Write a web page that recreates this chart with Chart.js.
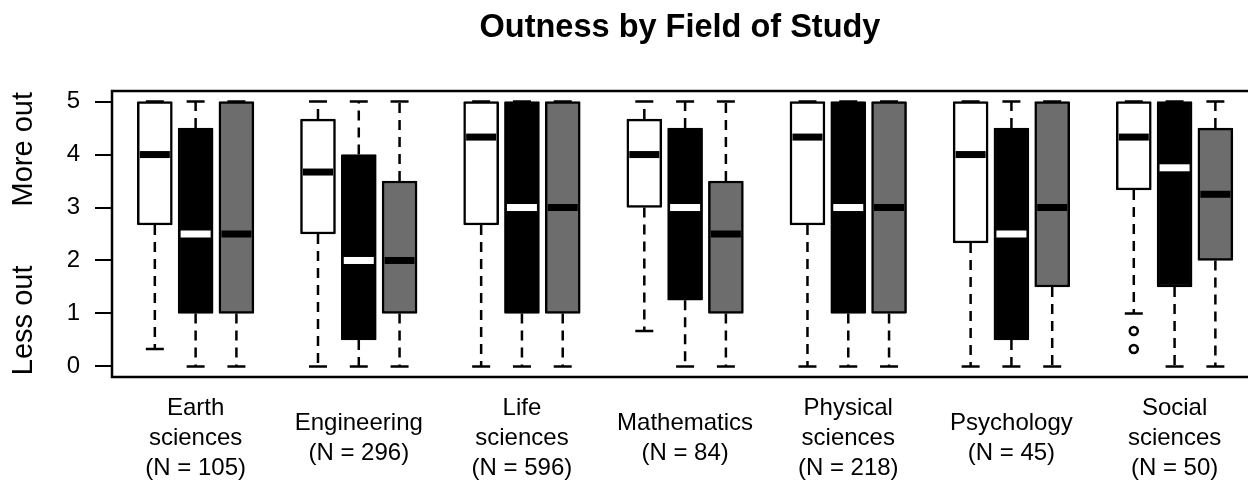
<!DOCTYPE html>
<html>
<head>
<meta charset="utf-8">
<title>Outness by Field of Study</title>
<script src="https://cdn.jsdelivr.net/npm/chart.js@4.4.1/dist/chart.umd.min.js"></script>
<style>
  body { margin: 0; background: #fff; }
  #wrap { width: 1248px; height: 480px; }
</style>
</head>
<body>
<div id="wrap"><canvas id="chart"></canvas></div>
<script>
const categories = [
  ['Earth', 'sciences', '(N = 105)'],
  ['Engineering', '(N = 296)'],
  ['Life', 'sciences', '(N = 596)'],
  ['Mathematics', '(N = 84)'],
  ['Physical', 'sciences', '(N = 218)'],
  ['Psychology', '(N = 45)'],
  ['Social', 'sciences', '(N = 50)']
];
const yTicks = [0, 1, 2, 3, 4, 5];

// [lower whisker, q1, median, q3, upper whisker]
const whiteStats = [
  [0.33, 2.67, 4, 5, 5],
  [0, 2.5, 3.67, 4.67, 5],
  [0, 2.67, 4.33, 5, 5],
  [0.67, 3, 4, 4.67, 5],
  [0, 2.67, 4.33, 5, 5],
  [0, 2.33, 4, 5, 5],
  [1, 3.33, 4.33, 5, 5]
];
const blackStats = [
  [0, 1, 2.5, 4.5, 5],
  [0, 0.5, 2, 4, 5],
  [0, 1, 3, 5, 5],
  [0, 1.25, 3, 4.5, 5],
  [0, 1, 3, 5, 5],
  [0, 0.5, 2.5, 4.5, 5],
  [0, 1.5, 3.75, 5, 5]
];
const grayStats = [
  [0, 1, 2.5, 5, 5],
  [0, 1, 2, 3.5, 5],
  [0, 1, 3, 5, 5],
  [0, 1, 2.5, 3.5, 5],
  [0, 1, 3, 5, 5],
  [0, 1.5, 3, 5, 5],
  [0, 2, 3.25, 4.5, 5]
];
const whiteOutliers = [[], [], [], [], [], [], [0.67, 0.33]];

const series = [
  { stats: whiteStats, outliers: whiteOutliers, fill: '#ffffff', median: '#000000' },
  { stats: blackStats, outliers: [], fill: '#000000', median: '#ffffff' },
  { stats: grayStats, outliers: [], fill: '#6d6d6d', median: '#000000' }
];

const FONT = "'Liberation Sans', Arial, Helvetica, sans-serif";
Chart.defaults.font.family = FONT;
Chart.defaults.color = '#000';

const pos = (g, k) => g * 4 + k + 1;

const boxExtras = {
  id: 'boxExtras',
  afterDatasetsDraw(chart) {
    const { ctx, chartArea, scales: { x, y } } = chart;
    ctx.save();
    series.forEach((s, k) => {
      s.stats.forEach((st, g) => {
        const cx = x.getPixelForValue(pos(g, k));
        // whiskers
        ctx.strokeStyle = '#000';
        ctx.lineWidth = 2.5;
        ctx.setLineDash([10, 7]);
        ctx.beginPath();
        ctx.moveTo(cx, y.getPixelForValue(st[1]));
        ctx.lineTo(cx, y.getPixelForValue(st[0]));
        ctx.moveTo(cx, y.getPixelForValue(st[3]));
        ctx.lineTo(cx, y.getPixelForValue(st[4]));
        ctx.stroke();
        ctx.setLineDash([]);
        ctx.beginPath();
        [st[0], st[4]].forEach(v => {
          const py = y.getPixelForValue(v);
          ctx.moveTo(cx - 9, py);
          ctx.lineTo(cx + 9, py);
        });
        ctx.stroke();
        // median
        ctx.fillStyle = s.median;
        ctx.fillRect(cx - 15, y.getPixelForValue(st[2]) - 3.5, 30, 7);
        // outliers
        (s.outliers[g] || []).forEach(v => {
          ctx.beginPath();
          ctx.arc(cx, y.getPixelForValue(v), 4, 0, Math.PI * 2);
          ctx.fillStyle = '#fff';
          ctx.fill();
          ctx.stroke();
        });
      });
    });

    // frame (right side runs off the picture)
    ctx.strokeStyle = '#000';
    ctx.lineWidth = 2.5;
    ctx.beginPath();
    ctx.moveTo(chart.width + 2, chartArea.top);
    ctx.lineTo(chartArea.left, chartArea.top);
    ctx.lineTo(chartArea.left, chartArea.bottom);
    ctx.lineTo(chart.width + 2, chartArea.bottom);
    ctx.stroke();

    // category labels
    ctx.fillStyle = '#000';
    ctx.font = '24px ' + FONT;
    ctx.textAlign = 'center';
    ctx.textBaseline = 'middle';
    categories.forEach((lines, g) => {
      const cx = x.getPixelForValue(pos(g, 1));
      const top = 438 - (lines.length - 1) * 15;
      lines.forEach((t, i) => ctx.fillText(t, cx, top + i * 30));
    });

    // side labels
    ctx.font = '29px ' + FONT;
    [['More out', 4.1], ['Less out', 0.87]].forEach(([t, v]) => {
      ctx.save();
      ctx.translate(24, y.getPixelForValue(v));
      ctx.rotate(-Math.PI / 2);
      ctx.fillText(t, 0, 0);
      ctx.restore();
    });
    ctx.restore();
  }
};

new Chart(document.getElementById('chart'), {
  type: 'bar',
  data: {
    datasets: series.map((s, k) => ({
      data: s.stats.map((st, g) => ({ x: pos(g, k), y: [st[1], st[3]] })),
      backgroundColor: s.fill,
      borderColor: '#000',
      borderWidth: 2.5,
      borderRadius: 1,
      borderSkipped: false,
      barThickness: 35,
      grouped: false
    }))
  },
  options: {
    responsive: true,
    maintainAspectRatio: false,
    animation: false,
    layout: { padding: { bottom: 103 } },
    plugins: {
      legend: { display: false },
      tooltip: { enabled: false },
      title: {
        display: true,
        text: 'Outness by Field of Study',
        fullSize: false,
        color: '#000',
        font: { size: 32.5, weight: 'bold' },
        padding: { top: 9, bottom: 43 }
      }
    },
    scales: {
      x: { type: 'linear', min: -0.05, max: 27.8, offset: false, display: false },
      y: {
        min: -0.2,
        max: 5.2,
        afterBuildTicks: s => { s.ticks = yTicks.map(v => ({ value: v })); },
        afterFit: s => { s.width = 112; },
        ticks: { font: { size: 24 }, padding: 15, color: '#000' },
        grid: { drawOnChartArea: false, color: '#000', lineWidth: 2, tickLength: 17 },
        border: { display: false }
      }
    }
  },
  plugins: [boxExtras]
});
</script>
</body>
</html>
